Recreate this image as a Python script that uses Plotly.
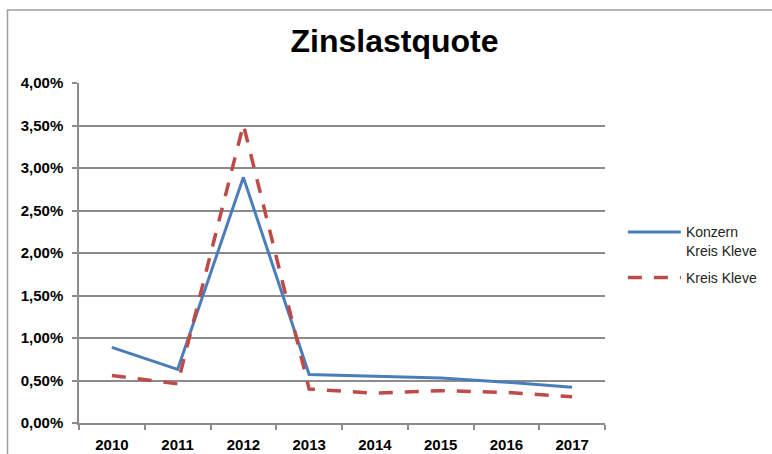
import plotly.graph_objects as go

years = ["2010", "2011", "2012", "2013", "2014", "2015", "2016", "2017"]
konzern = [0.89, 0.63, 2.89, 0.57, 0.55, 0.53, 0.48, 0.42]
kreis = [0.56, 0.46, 3.51, 0.40, 0.35, 0.38, 0.36, 0.31]
y_ticks = [0, 0.5, 1.0, 1.5, 2.0, 2.5, 3.0, 3.5, 4.0]
y_labels = ["0,00%", "0,50%", "1,00%", "1,50%", "2,00%", "2,50%", "3,00%", "3,50%", "4,00%"]

fig = go.Figure()
fig.add_trace(go.Scatter(x=years, y=konzern, mode="lines", name="Konzern<br>Kreis Kleve",
                         legendgroup="a", line=dict(color="#4A7EBB", width=3)))
fig.add_trace(go.Scatter(x=years, y=kreis, mode="lines", name="Kreis Kleve",
                         legendgroup="b", line=dict(color="#BE4B48", width=3.5, dash="14px,12px")))

fig.update_layout(
    width=772, height=454,
    margin=dict(l=79, r=167, t=83, b=31, autoexpand=False),
    paper_bgcolor="white", plot_bgcolor="white",
    font=dict(family="Liberation Sans, Arial, sans-serif", color="black"),
    title=dict(text="<b>Zinslastquote</b>", x=394.5 / 772, xanchor="center",
               y=1 - 41 / 454, yanchor="middle", font=dict(size=32, color="black")),
    showlegend=True,
    legend=dict(x=1.034, xanchor="left", y=0.4944, yanchor="middle", valign="top",
                font=dict(size=14, color="#222"), bgcolor="rgba(0,0,0,0)",
                tracegroupgap=6, itemwidth=53),
    xaxis=dict(type="category", showgrid=False, showline=True, linecolor="#8c8c8c", linewidth=1.5,
               ticks="outside", tickson="boundaries", ticklen=5, tickcolor="#8c8c8c", tickwidth=1.5,
               ticklabelstandoff=7, automargin=False,
               tickfont=dict(size=15, color="black", weight="bold"), range=[-0.5, 7.5]),
    yaxis=dict(range=[0, 4.0], tickvals=y_ticks, ticktext=y_labels, showgrid=True,
               gridcolor="#8c8c8c", gridwidth=1.5, showline=True, linecolor="#8c8c8c", linewidth=1.5,
               ticks="outside", ticklen=5, tickcolor="#8c8c8c", tickwidth=1.5,
               ticklabelstandoff=6, automargin=False,
               tickfont=dict(size=15, color="black", weight="bold"), zeroline=False),
)

fig.add_shape(type="rect", xref="paper", yref="paper",
              x0=(7.5 - 79) / 526, x1=(800 - 79) / 526, y0=-0.3, y1=(423 - 10) / 340,
              line=dict(color="#a0a0a0", width=1.5), fillcolor="rgba(0,0,0,0)", layer="below")

fig.write_html("out.html", config={"displayModeBar": False},
               post_script="document.body.style.margin='0';")
